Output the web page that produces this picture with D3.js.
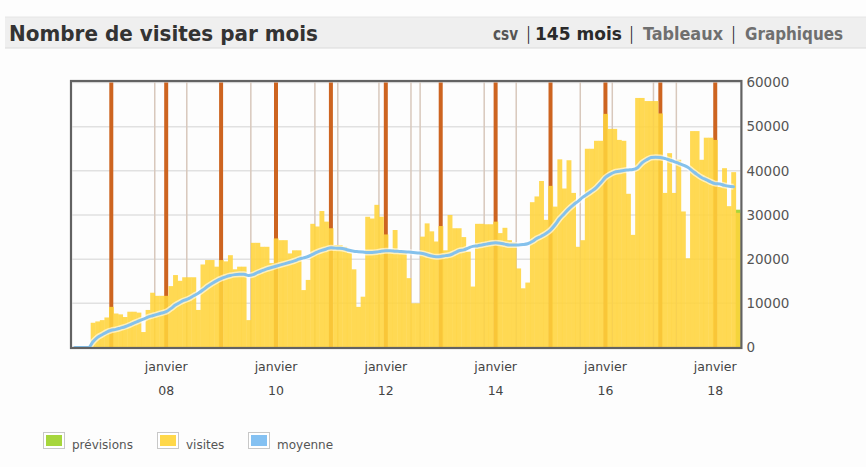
<!DOCTYPE html>
<html>
<head>
<meta charset="utf-8">
<script src="https://cdn.jsdelivr.net/npm/d3@7"></script>
<style>
  body { margin: 0; background: #fdfdfd; }
  svg { display: block; }
</style>
</head>
<body>
<svg id="chart"></svg>
<script>
// months May 2006 .. June 2018 (146 slots, last one = current month)
const months = d3.timeMonths(new Date(2006, 4, 1), new Date(2018, 6, 1));

const visits = [
  0, 0, 0, 0, 5600, 5900, 6200, 6800, 9200, 7700, 7500, 6900, 8100, 8100, 7900, 3500,
  8500, 12400, 11700, 11700, 11700, 13900, 16400, 15100, 15900, 15900, 15900, 8500,
  18800, 19800, 19800, 18300, 19800, 19500, 20900, 17700, 18300, 18300, 6200, 23700,
  23700, 22800, 22800, 19100, 24700, 24300, 24300, 21300, 22000, 22000, 13000, 15300,
  28000, 27400, 30900, 28500, 27000, 23200, 23200, 22800, 21500, 17700, 9200, 11500,
  29600, 29200, 32300, 29600, 25600, 21700, 26600, 21700, 21700, 15700, 10000, 10000,
  25100, 28100, 26300, 24000, 27500, 22000, 30000, 27000, 27000, 25000, 21700, 13800,
  28000, 28000, 27900, 27900, 28500, 25900, 27100, 24300, 23800, 17900, 13400, 14700,
  32900, 34200, 37700, 28900, 36600, 31900, 42600, 36000, 42400, 35000, 22800, 24300,
  45000, 45000, 46800, 46800, 52900, 49500, 49500, 47000, 46800, 34800, 25500, 56500,
  56500, 55800, 55800, 55800, 53000, 35000, 44000, 35000, 42500, 30800, 20200, 49000,
  49000, 42500, 47500, 47500, 47000, 36400, 40600, 32000, 39700, 30500
];

const average = [
  0, 0, 0, 0, 1300, 2300, 2900, 3500, 3900, 4100, 4400, 4700, 5100, 5600, 6000, 6400,
  6900, 7200, 7500, 7800, 8100, 8800, 9600, 10200, 10700, 11100, 11700, 12300,
  13000, 13800, 14500, 15100, 15600, 16000, 16300, 16500, 16600, 16600, 16300, 16500,
  17000, 17400, 17800, 18100, 18400, 18700, 19000, 19300, 19600, 20000, 20300, 20600,
  21100, 21600, 22000, 22300, 22600, 22500, 22450, 22300, 22000, 21800, 21700, 21600,
  21500, 21500, 21600, 21800, 21900, 21900, 21800, 21750, 21700, 21600, 21500, 21400,
  21300, 21000, 20700, 20550, 20600, 20800, 20950, 21400, 21900, 22100, 22500, 22900,
  23000, 23200, 23400, 23600, 23700, 23600, 23400, 23200, 23200, 23200, 23300, 23500,
  24000, 24700, 25200, 25800, 26600, 27800, 29200, 30300, 31400, 32300, 33100, 34000,
  34700, 35400, 36200, 37300, 38500, 39200, 39700, 39900, 40100, 40200, 40300, 40700,
  41800, 42500, 43000, 43100, 43000, 42800, 42450, 42100, 41700, 41300, 40800, 40000,
  39200, 38500, 38000, 37500, 37100, 37000, 36700, 36500, 36400, null
];

// forecast only for the current (last) month
const forecast = { month: "2018-06", value: 31200 };

// thin vertical markers
const events = ["2007-11", "2008-06", "2009-08", "2010-10", "2011-03", "2011-12", "2012-07",
  "2012-09", "2013-11", "2014-06", "2015-08", "2016-03", "2016-12", "2017-05"];

const yTicks = [0, 10000, 20000, 30000, 40000, 50000, 60000];
const xTickYears = ["08", "10", "12", "14", "16", "18"];

const legendItems = [
  { label: "prévisions", color: "#a6d63c" },
  { label: "visites", color: "#ffd84a" },
  { label: "moyenne", color: "#84c1f2" }
];

const fmt = d3.timeFormat("%Y-%m");
const data = months.map((m, i) => ({ key: fmt(m), date: m, visits: visits[i], avg: average[i] }));

const W = 866, H = 467;
const margin = { top: 82.5, left: 72.4, right: 125.6, bottom: 119.5 };
const width = W - margin.left - margin.right;
const height = H - margin.top - margin.bottom;

const svg = d3.select("#chart").attr("width", W).attr("height", H);

// header band
svg.append("rect").attr("x", 5).attr("y", 17).attr("width", W - 5).attr("height", 31)
    .attr("fill", "#efefef");
svg.append("line").attr("x1", 5).attr("x2", W).attr("y1", 48).attr("y2", 48)
    .attr("stroke", "#dadada").attr("stroke-width", 1);
svg.append("line").attr("x1", 5).attr("x2", W).attr("y1", 17).attr("y2", 17)
    .attr("stroke", "#e6e6e6").attr("stroke-width", 1);

const headFont = "'Liberation Sans Narrow', 'DejaVu Sans Condensed', 'Liberation Sans', sans-serif";
svg.append("text").attr("x", 9).attr("y", 41)
    .attr("font-family", headFont).attr("font-weight", "bold").attr("font-size", 22)
    .attr("fill", "#333").attr("textLength", 309).attr("lengthAdjust", "spacingAndGlyphs")
    .text("Nombre de visites par mois");

const links = [
  { t: "csv", x: 493, w: 25, c: "#555" },
  { t: "|", x: 527, w: 3, c: "#222" },
  { t: "145 mois", x: 535, w: 87, c: "#2a2a2a" },
  { t: "|", x: 630, w: 3, c: "#222" },
  { t: "Tableaux", x: 643, w: 80, c: "#6f6f6f" },
  { t: "|", x: 732, w: 3, c: "#222" },
  { t: "Graphiques", x: 745, w: 98, c: "#6f6f6f" }
];
svg.selectAll(".link").data(links).join("text")
    .attr("class", "link")
    .attr("x", d => d.x).attr("y", 40)
    .attr("font-family", headFont).attr("font-weight", "bold").attr("font-size", 17)
    .attr("fill", d => d.c)
    .attr("textLength", d => d.w).attr("lengthAdjust", "spacingAndGlyphs")
    .text(d => d.t);

// chart
const xScale = d3.scaleBand().domain(data.map(d => d.key)).range([0, width]).padding(0);
const yScale = d3.scaleLinear().domain([0, 60000]).range([height, 0]);

const chart = svg.append("g").attr("transform", `translate(${margin.left},${margin.top})`);

// horizontal gridlines
chart.append("g").selectAll("line").data(yTicks).join("line")
    .attr("x1", 0).attr("x2", width)
    .attr("y1", d => yScale(d)).attr("y2", d => yScale(d))
    .attr("stroke", "#e1e1e1").attr("stroke-width", 1.5);

// event markers
chart.append("g").selectAll("line").data(events).join("line")
    .attr("x1", d => xScale(d)).attr("x2", d => xScale(d))
    .attr("y1", 0).attr("y2", height)
    .attr("stroke", "#d8c8bc").attr("stroke-width", 1.5);

// january markers
const janv = data.filter(d => d.date.getMonth() === 0);
chart.append("g").selectAll("line").data(janv).join("line")
    .attr("x1", d => xScale(d.key) + xScale.bandwidth() / 2)
    .attr("x2", d => xScale(d.key) + xScale.bandwidth() / 2)
    .attr("y1", 0).attr("y2", height)
    .attr("stroke", "#cd6420").attr("stroke-width", 4);

// forecast
chart.append("rect")
    .attr("x", xScale(forecast.month)).attr("width", xScale.bandwidth())
    .attr("y", yScale(forecast.value)).attr("height", height - yScale(forecast.value))
    .attr("fill", "#a6d63c");

// bars
chart.append("g").selectAll("rect").data(data).join("rect")
    .attr("x", d => xScale(d.key))
    .attr("width", xScale.bandwidth() + 0.3)
    .attr("y", d => yScale(d.visits))
    .attr("height", d => height - yScale(d.visits))
    .attr("fill", "#ffd43b").attr("fill-opacity", 0.88);

// moving average
const avgData = data.filter(d => d.avg !== null);
const line = d3.line()
    .x(d => xScale(d.key) + xScale.bandwidth() / 2)
    .y(d => yScale(d.avg))
    .curve(d3.curveMonotoneX);

chart.append("path").datum(avgData).attr("d", line)
    .attr("fill", "none").attr("stroke", "#ffffff").attr("stroke-opacity", 0.6)
    .attr("stroke-width", 6).attr("stroke-linejoin", "round");
chart.append("path").datum(avgData).attr("d", line)
    .attr("fill", "none").attr("stroke", "#84c1ec")
    .attr("stroke-width", 3).attr("stroke-linejoin", "round").attr("stroke-linecap", "round");

// frame
chart.append("rect").attr("x", -1.4).attr("y", -1.5)
    .attr("width", width + 2.4).attr("height", height + 2)
    .attr("fill", "none").attr("stroke", "#626262").attr("stroke-width", 2.2);

// y axis (right)
const axisFont = "'DejaVu Sans', Verdana, sans-serif";
const yAxis = d3.axisRight(yScale).tickValues(yTicks).tickSize(0).tickPadding(5)
    .tickFormat(d3.format("d"));
const yAxisG = chart.append("g").attr("transform", `translate(${width + 1},0)`).call(yAxis);
yAxisG.select(".domain").remove();
yAxisG.selectAll("text").attr("font-family", axisFont).attr("font-size", 13.5).attr("fill", "#555");

// x axis: january of even years
const xTicks = janv.filter(d => xTickYears.includes(d3.timeFormat("%y")(d.date)));
const xLab = chart.append("g").selectAll("g").data(xTicks).join("g")
    .attr("transform", d => `translate(${xScale(d.key) + xScale.bandwidth() / 2},${height})`);
xLab.append("text").attr("y", 23).attr("text-anchor", "middle")
    .attr("font-family", axisFont).attr("font-size", 12.5).attr("fill", "#444")
    .text("janvier");
xLab.append("text").attr("y", 47).attr("text-anchor", "middle")
    .attr("font-family", axisFont).attr("font-size", 12.5).attr("fill", "#444")
    .text(d => d3.timeFormat("%y")(d.date));

// legend
const legX = [43, 157, 248];
const leg = svg.append("g").selectAll("g").data(legendItems).join("g")
    .attr("transform", (d, i) => `translate(${legX[i]},432)`);
leg.append("rect").attr("x", 0.5).attr("y", 0.5).attr("width", 21).attr("height", 16)
    .attr("fill", "#fff").attr("stroke", "#c8c8c8");
leg.append("rect").attr("x", 3).attr("y", 3).attr("width", 16).attr("height", 11)
    .attr("fill", d => d.color);
leg.append("text").attr("x", 29).attr("y", 17)
    .attr("font-family", axisFont).attr("font-size", 12).attr("fill", "#555")
    .text(d => d.label);
</script>
</body>
</html>
